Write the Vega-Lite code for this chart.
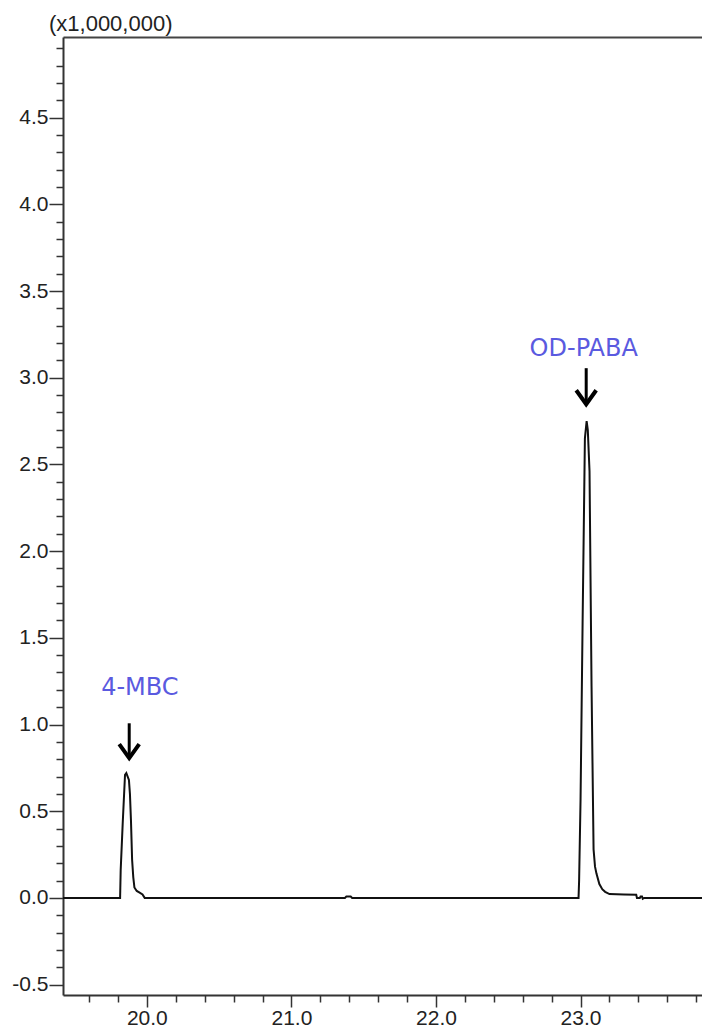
{
  "$schema": "https://vega.github.io/schema/vega-lite/v6.json",
  "autosize": "none",
  "padding": {"left": 63, "top": 37, "right": 0, "bottom": 32},
  "width": 639,
  "height": 958,
  "background": "white",
  "config": {
    "view": {"stroke": null},
    "axis": {"grid": false, "domainColor": "#333", "tickColor": "#333", "labelColor": "#222", "labelFont": "Liberation Sans", "labelFontSize": 21, "title": null, "labelExpr": "replace(datum.label, '\u2212', '-')"}
  },
  "datasets": {
    "trace": [
      {"t": 19.42, "v": 0}, {"t": 19.8, "v": 0}, {"t": 19.815, "v": 0}, {"t": 19.819, "v": 0.16}, {"t": 19.833, "v": 0.43},
      {"t": 19.849, "v": 0.71}, {"t": 19.858, "v": 0.72}, {"t": 19.876, "v": 0.68}, {"t": 19.883, "v": 0.6}, {"t": 19.89, "v": 0.45},
      {"t": 19.898, "v": 0.22}, {"t": 19.906, "v": 0.12}, {"t": 19.914, "v": 0.06}, {"t": 19.93, "v": 0.04}, {"t": 19.95, "v": 0.03},
      {"t": 19.97, "v": 0.02}, {"t": 19.985, "v": 0}, {"t": 21.37, "v": 0}, {"t": 21.38, "v": 0.008}, {"t": 21.41, "v": 0.008},
      {"t": 21.42, "v": 0}, {"t": 22.98, "v": 0}, {"t": 22.986, "v": 0}, {"t": 22.99, "v": 0.1}, {"t": 23.0, "v": 0.57},
      {"t": 23.014, "v": 1.58}, {"t": 23.03, "v": 2.65}, {"t": 23.042, "v": 2.75}, {"t": 23.05, "v": 2.7}, {"t": 23.062, "v": 2.46},
      {"t": 23.076, "v": 1.22}, {"t": 23.09, "v": 0.28}, {"t": 23.1, "v": 0.18}, {"t": 23.11, "v": 0.14}, {"t": 23.13, "v": 0.08},
      {"t": 23.15, "v": 0.05}, {"t": 23.17, "v": 0.035}, {"t": 23.2, "v": 0.022}, {"t": 23.3, "v": 0.02}, {"t": 23.385, "v": 0.018},
      {"t": 23.39, "v": 0}, {"t": 23.41, "v": 0}, {"t": 23.415, "v": 0.008}, {"t": 23.425, "v": 0.008}, {"t": 23.43, "v": -0.005},
      {"t": 23.44, "v": 0}, {"t": 23.84, "v": 0}
    ],
    "arrows": [
      {"t": 19.878, "top": 1.007, "tip": 0.806},
      {"t": 23.039, "top": 3.055, "tip": 2.847}
    ],
    "labels": [
      {"t": 19.952, "v": 1.209, "label": "4-MBC"},
      {"t": 23.022, "v": 3.164, "label": "OD-PABA"}
    ],
    "note": [
      {"t": 19.323, "v": 5.04, "label": "(x1,000,000)"}
    ]
  },
  "resolve": {"axis": {"x": "independent", "y": "independent"}},
  "layer": [
    {
      "data": {"name": "trace"},
      "mark": {"type": "line", "color": "#111", "strokeWidth": 2, "clip": true},
      "encoding": {
        "x": {"field": "t", "type": "quantitative", "scale": {"domain": [19.42, 23.84], "nice": false, "zero": false},
          "axis": {"orient": "bottom", "values": [20, 21, 22, 23], "format": ".1f", "tickSize": 12, "tickWidth": 1.5, "domainWidth": 2, "labelPadding": 0, "labelFlush": false}},
        "y": {"field": "v", "type": "quantitative", "scale": {"domain": [-0.56, 4.965], "nice": false, "zero": false},
          "axis": {"orient": "left", "values": [-0.5, 0, 0.5, 1, 1.5, 2, 2.5, 3, 3.5, 4, 4.5], "format": ".1f", "tickSize": 14, "tickWidth": 1.5, "domainWidth": 2, "labelPadding": 1, "labelFlush": false}}
      }
    },
    {
      "data": {"name": "arrows"},
      "mark": {"type": "rule", "color": "black", "strokeWidth": 3},
      "encoding": {
        "x": {"field": "t", "type": "quantitative",
          "axis": {"orient": "bottom", "values": [19.6, 19.8, 20.2, 20.4, 20.6, 20.8, 21.2, 21.4, 21.6, 21.8, 22.2, 22.4, 22.6, 22.8, 23.2, 23.4, 23.6, 23.8], "tickSize": 7, "tickWidth": 1.5, "labels": false, "domain": false}},
        "y": {"field": "top", "type": "quantitative",
          "axis": {"orient": "left", "values": [-0.4, -0.3, -0.2, -0.1, 0.1, 0.2, 0.3, 0.4, 0.6, 0.7, 0.8, 0.9, 1.1, 1.2, 1.3, 1.4, 1.6, 1.7, 1.8, 1.9, 2.1, 2.2, 2.3, 2.4, 2.6, 2.7, 2.8, 2.9, 3.1, 3.2, 3.3, 3.4, 3.6, 3.7, 3.8, 3.9, 4.1, 4.2, 4.3, 4.4, 4.6, 4.7, 4.8, 4.9], "tickSize": 7, "tickWidth": 1.5, "labels": false, "domain": false}},
        "y2": {"field": "tip"}
      }
    },
    {
      "data": {"name": "arrows"},
      "mark": {"type": "point", "shape": "M-1,-1.4L0,0L1,-1.4", "filled": false, "stroke": "black", "strokeWidth": 4, "size": 400, "opacity": 1, "strokeJoin": "miter"},
      "encoding": {
        "x": {"field": "t", "type": "quantitative",
          "axis": {"orient": "top", "ticks": false, "labels": false, "domain": true, "domainWidth": 2, "domainColor": "#444", "minExtent": 0, "maxExtent": 0, "offset": 0}},
        "y": {"field": "tip", "type": "quantitative", "axis": null}
      }
    },
    {
      "data": {"name": "labels"},
      "mark": {"type": "text", "font": "DejaVu Sans", "fontSize": 24, "color": "#5a5ae0", "baseline": "middle", "align": "center"},
      "encoding": {
        "x": {"field": "t", "type": "quantitative", "axis": null},
        "y": {"field": "v", "type": "quantitative", "axis": null},
        "text": {"field": "label"}
      }
    },
    {
      "data": {"name": "note"},
      "mark": {"type": "text", "font": "Liberation Sans", "fontSize": 22, "color": "#222", "baseline": "middle", "align": "left", "clip": false},
      "encoding": {
        "x": {"field": "t", "type": "quantitative", "axis": null},
        "y": {"field": "v", "type": "quantitative", "axis": null},
        "text": {"field": "label"}
      }
    }
  ]
}
